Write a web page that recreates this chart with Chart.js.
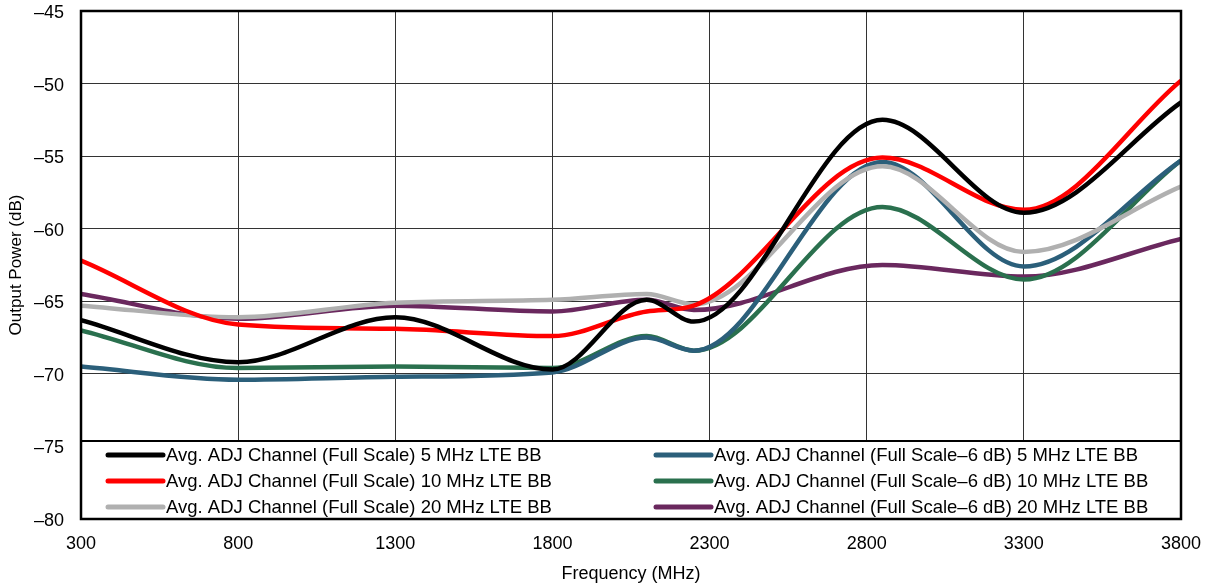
<!DOCTYPE html>
<html>
<head>
<meta charset="utf-8">
<script src="https://cdn.jsdelivr.net/npm/chart.js@4.4.1/dist/chart.umd.min.js"></script>
<style>
  html, body { margin: 0; padding: 0; background: #fff; }
  #wrap { width: 1209px; height: 583px; }
</style>
</head>
<body>
<div id="wrap"><canvas id="chart" width="1209" height="583"></canvas></div>
<script>
'use strict';

const freqs = [300, 800, 1300, 1800, 2100, 2250, 2850, 3300, 3800];

// series values (dB)
const full5 = [-66.3, -69.2, -66.1, -69.7, -64.9, -66.4, -52.5, -58.9, -51.3];
const full10 = [-62.2, -66.6, -66.9, -67.4, -65.7, -65.3, -55.1, -58.7, -49.8];
const full20 = [-65.3, -66.1, -65.1, -64.9, -64.5, -65.2, -55.7, -61.6, -57.1];
const half5 = [-69.5, -70.4, -70.2, -69.9, -67.5, -68.4, -55.4, -62.6, -55.3];
const half10 = [-67.0, -69.6, -69.5, -69.6, -67.4, -68.4, -58.5, -63.5, -55.3];
const half20 = [-64.5, -66.2, -65.3, -65.7, -64.9, -65.6, -62.5, -63.3, -60.7];

const seriesNames = [
  'Avg. ADJ Channel (Full Scale) 5 MHz LTE BB',
  'Avg. ADJ Channel (Full Scale) 10 MHz LTE BB',
  'Avg. ADJ Channel (Full Scale) 20 MHz LTE BB',
  'Avg. ADJ Channel (Full Scale\u20136 dB) 5 MHz LTE BB',
  'Avg. ADJ Channel (Full Scale\u20136 dB) 10 MHz LTE BB',
  'Avg. ADJ Channel (Full Scale\u20136 dB) 20 MHz LTE BB'
];
const seriesValues = [full5, full10, full20, half5, half10, half20];
const seriesColors = ['#000000', '#ff0000', '#b0b0b0', '#2b5f7a', '#2a704e', '#6a285e'];

// axis ranges
const xMin = 300, xMax = 3800, xStep = 500;
const yMin = -80, yMax = -45, yStep = 5;

const FONT = '"Liberation Sans", Arial, sans-serif';

function toPoints(vals) {
  return vals.map((v, i) => ({ x: freqs[i], y: v }));
}

const datasets = seriesValues.map((vals, i) => ({
  label: seriesNames[i],
  data: toPoints(vals),
  borderColor: seriesColors[i],
  backgroundColor: seriesColors[i],
  borderWidth: 4.5,
  pointRadius: 0,
  cubicInterpolationMode: 'monotone',
  fill: false
}));

// legend drawn inside the plot, two columns, plus thick frame
const boxLegend = {
  id: 'boxLegend',
  afterDatasetsDraw(chart) {
    const ctx = chart.ctx;
    const a = chart.chartArea;
    const top = a.bottom - 78;
    ctx.save();
    ctx.fillStyle = '#fff';
    ctx.fillRect(a.left, top, a.right - a.left, a.bottom - top);
    ctx.strokeStyle = '#000';
    ctx.lineWidth = 2;
    ctx.beginPath();
    ctx.moveTo(a.left, top);
    ctx.lineTo(a.right, top);
    ctx.stroke();

    ctx.font = '18.5px ' + FONT;
    ctx.textBaseline = 'middle';
    ctx.textAlign = 'left';
    const cols = [a.left + 27, a.left + 575];
    chart.data.datasets.forEach((ds, i) => {
      const col = Math.floor(i / 3);
      const row = i % 3;
      const x = cols[col];
      const y = top + 14 + row * 26;
      ctx.strokeStyle = ds.borderColor;
      ctx.lineWidth = 5;
      ctx.lineCap = 'round';
      ctx.beginPath();
      ctx.moveTo(x, y);
      ctx.lineTo(x + 55, y);
      ctx.stroke();
      ctx.fillStyle = '#000';
      ctx.fillText(ds.label, x + 58, y + 1);
    });

    ctx.lineCap = 'butt';
    ctx.strokeStyle = '#000';
    ctx.lineWidth = 2.5;
    ctx.strokeRect(a.left, a.top, a.right - a.left, a.bottom - a.top);
    ctx.restore();
  }
};

const dash = v => String(v).replace('-', '\u2013');

new Chart(document.getElementById('chart'), {
  type: 'line',
  data: { datasets: datasets },
  options: {
    responsive: false,
    animation: false,
    layout: { padding: 0 },
    plugins: {
      legend: { display: false },
      tooltip: { enabled: false }
    },
    scales: {
      x: {
        type: 'linear',
        min: xMin,
        max: xMax,
        ticks: {
          stepSize: xStep,
          color: '#000',
          font: { family: FONT, size: 18 },
          padding: 14,
          maxRotation: 0,
          callback: v => String(v)
        },
        grid: { color: '#333', lineWidth: 1, drawTicks: false },
        border: { display: false },
        title: {
          display: true,
          text: 'Frequency (MHz)',
          color: '#000',
          font: { family: FONT, size: 18, lineHeight: 1 },
          padding: { top: 0, bottom: 0 }
        },
        afterFit(scale) {
          scale.height = 64;
          scale.paddingLeft = 0;
          scale.paddingRight = 28;
        }
      },
      y: {
        min: yMin,
        max: yMax,
        ticks: {
          stepSize: yStep,
          color: '#000',
          font: { family: FONT, size: 18 },
          padding: 17,
          labelOffset: 2,
          callback: v => dash(v)
        },
        grid: { color: '#333', lineWidth: 1, drawTicks: false },
        border: { display: false },
        title: {
          display: true,
          text: 'Output Power (dB)',
          color: '#000',
          font: { family: FONT, size: 17, lineHeight: 1 },
          padding: { top: 8, bottom: 0 }
        },
        afterFit(scale) {
          scale.width = 81;
          scale.paddingTop = 11;
          scale.paddingBottom = 0;
        }
      }
    }
  },
  plugins: [boxLegend]
});
</script>
</body>
</html>
